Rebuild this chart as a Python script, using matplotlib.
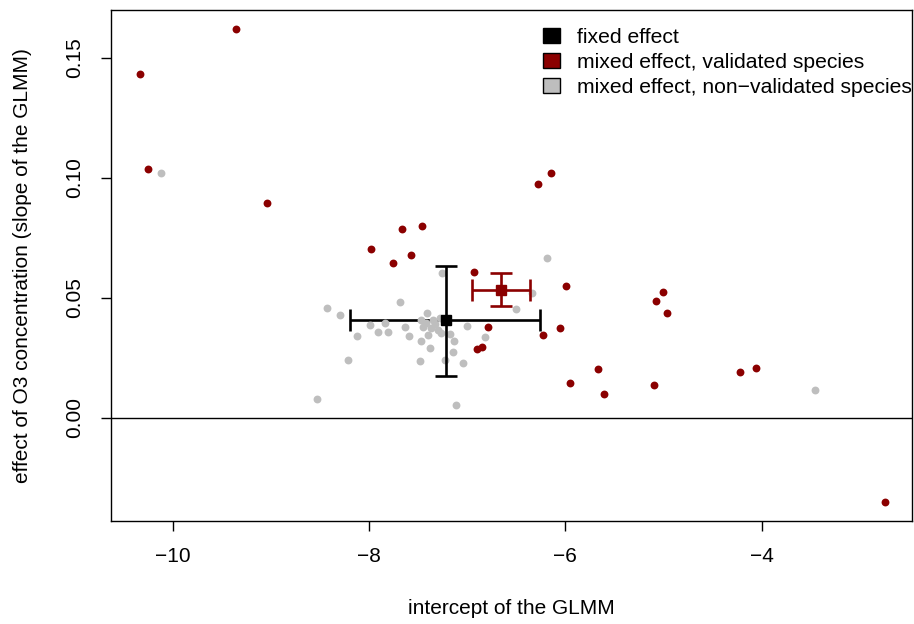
import numpy as np
import matplotlib
matplotlib.use("Agg")
import matplotlib.pyplot as plt
from matplotlib.patches import Patch

plt.rcParams['font.family'] = ['Liberation Sans', 'DejaVu Sans']

# species-level (mixed effect) estimates: validated species
red_x = [-10.328, -9.357, -10.252, -9.039, -7.658, -7.462, -7.981, -6.142, -6.275,
         -7.750, -7.567, -6.926, -5.987, -6.787, -6.048, -6.224, -6.895, -6.844,
         -5.949, -5.007, -5.078, -4.966, -5.668, -5.603, -5.099, -4.217, -4.054, -2.742]
red_y = [0.1433, 0.1620, 0.1035, 0.0893, 0.0786, 0.0799, 0.0702, 0.1021, 0.0975,
         0.0643, 0.0678, 0.0607, 0.0549, 0.0378, 0.0375, 0.0343, 0.0286, 0.0293,
         0.0145, 0.0525, 0.0485, 0.0438, 0.0204, 0.0099, 0.0135, 0.0190, 0.0207, -0.0351]

# non-validated species
gray_x = [-10.117, -6.187, -6.336, -6.503, -7.251, -8.428, -8.299, -7.686, -8.120,
          -7.991, -7.909, -7.835, -7.805, -7.635, -7.587, -7.469, -7.377, -7.482,
          -8.210, -8.530, -7.116, -7.225, -7.042, -7.143, -7.133, -7.170, -7.001,
          -6.821, -3.451, -7.404, -7.465, -7.347, -7.279, -7.449, -7.363, -7.296,
          -7.398, -7.261, -7.420, -7.330]
gray_y = [0.1018, 0.0664, 0.0521, 0.0452, 0.0602, 0.0458, 0.0429, 0.0482, 0.0340,
          0.0385, 0.0357, 0.0393, 0.0356, 0.0377, 0.0342, 0.0318, 0.0290, 0.0238,
          0.0242, 0.0077, 0.0052, 0.0239, 0.0229, 0.0275, 0.0321, 0.0350, 0.0381,
          0.0336, 0.0115, 0.0435, 0.0407, 0.0407, 0.0414, 0.0379, 0.0373, 0.0365,
          0.0345, 0.0352, 0.0395, 0.0390]

# fixed effect estimate with CI
fix_x, fix_y = -7.215, 0.0407
fix_xlo, fix_xhi = -8.187, -6.254
fix_ylo, fix_yhi = 0.0175, 0.0632

# mean of validated species with CI
val_x, val_y = -6.651, 0.0532
val_xlo, val_xhi = -6.950, -6.356
val_ylo, val_yhi = 0.0464, 0.0604

dark = '#8B0000'
grey = '#BEBEBE'

fig = plt.figure(figsize=(9.14, 6.24), dpi=100)
ax = fig.add_axes([0.1211, 0.1655, 0.8767, 0.8185])

ax.axhline(0, color='black', lw=1, zorder=1)

# horizontal CI of fixed effect (below the points)
ax.errorbar([fix_x], [fix_y], xerr=[[fix_x - fix_xlo], [fix_xhi - fix_x]],
            fmt='none', ecolor='black', elinewidth=1.9, capsize=8, capthick=1.9, zorder=2)

ax.scatter(gray_x, gray_y, s=32, color=grey, linewidths=0, zorder=3)
ax.scatter(red_x, red_y, s=32, color=dark, linewidths=0, zorder=4)

ax.errorbar([fix_x], [fix_y], yerr=[[fix_y - fix_ylo], [fix_yhi - fix_y]],
            fmt='none', ecolor='black', elinewidth=1.9, capsize=8, capthick=1.9, zorder=5)
ax.errorbar([val_x], [val_y], xerr=[[val_x - val_xlo], [val_xhi - val_x]],
            yerr=[[val_y - val_ylo], [val_yhi - val_y]],
            fmt='none', ecolor=dark, elinewidth=1.9, capsize=8, capthick=1.9, zorder=5)
ax.plot([fix_x], [fix_y], 's', color='black', ms=7.5, zorder=6)
ax.plot([val_x], [val_y], 's', color=dark, ms=7.5, zorder=6)

ax.set_xlim(-10.63, -2.467)
ax.set_ylim(-0.0429, 0.1699)
ax.set_xticks([-10, -8, -6, -4])
ax.set_xticklabels(['\u221210', '\u22128', '\u22126', '\u22124'])
ax.set_yticks([0, 0.05, 0.10, 0.15])
ax.set_yticklabels(['0.00', '0.05', '0.10', '0.15'], rotation=90, va='center')
ax.tick_params(labelsize=15, length=7, width=1, pad=12)
for s in ax.spines.values():
    s.set_linewidth(1)

ax.set_xlabel('intercept of the GLMM', fontsize=15, labelpad=24)
ax.set_ylabel('effect of O3 concentration (slope of the GLMM)', fontsize=15, labelpad=24)

handles = [Patch(facecolor='black', edgecolor='black'),
           Patch(facecolor=dark, edgecolor='black'),
           Patch(facecolor=grey, edgecolor='black')]
labels = ['fixed effect', 'mixed effect, validated species',
          'mixed effect, non\u2212validated species']
ax.legend(handles, labels, loc='upper left', bbox_to_anchor=(0.540, 0.965),
          frameon=False, fontsize=15.2, handlelength=0.8, handleheight=0.7,
          handletextpad=0.8, labelspacing=0.28, borderaxespad=0, borderpad=0)

fig.savefig('out.png', dpi=100)
